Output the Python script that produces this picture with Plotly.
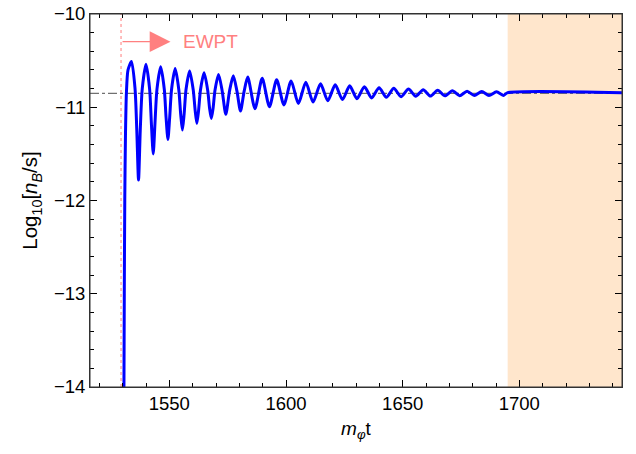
import plotly.graph_objects as go

# ---- data (m_phi t, log10 n_B/s) ----
curve_t = [
    1530.5, 1530.7, 1530.9, 1531.2, 1531.6, 1532.3,
    1533.8, 1535.3, 1536.05, 1536.8, 1537.55, 1538.4,
    1540.0, 1541.55, 1542.3, 1543.1, 1543.85, 1544.7,
    1546.3, 1547.85, 1548.6, 1549.4, 1550.15, 1550.95,
    1552.5, 1554.05, 1554.85, 1555.6, 1556.35, 1557.15,
    1558.7, 1560.25, 1561.05, 1561.8, 1562.55, 1563.35,
    1564.9, 1566.45, 1567.25, 1568.0, 1568.75, 1569.55,
    1571.1, 1572.65, 1574.2, 1575.8,
    1577.4, 1579.0, 1580.5, 1582.05,
    1583.6, 1586.7, 1589.8, 1592.9, 1596.0, 1599.1,
    1602.2, 1605.3, 1608.5, 1611.6, 1614.8, 1617.9, 1621.1, 1624.2,
    1627.3, 1630.4, 1633.6, 1636.7, 1639.9, 1643.0, 1646.2, 1649.3,
    1652.5, 1655.6, 1658.8, 1661.9, 1665.0, 1668.1, 1671.3, 1674.4,
    1677.6, 1680.7, 1683.9, 1687.0, 1690.2, 1693.3,
    1694.8, 1744.0,
]
curve_y = [
    -14.3, -13.0, -12.0, -11.3, -10.85, -10.6,
    -10.51, -10.80, -11.24, -11.78, -11.24, -10.80,
    -10.54, -10.805, -11.17, -11.50, -11.17, -10.805,
    -10.565, -10.81, -11.11, -11.345, -11.11, -10.81,
    -10.585, -10.81, -11.07, -11.245, -11.07, -10.81,
    -10.61, -10.815, -11.03, -11.173, -11.03, -10.815,
    -10.63, -10.82, -11.01, -11.12, -11.01, -10.82,
    -10.648, -10.825, -11.076, -10.825,
    -10.663, -10.83, -11.04, -10.83,
    -10.675, -11.015, -10.69, -10.995, -10.705, -10.975,
    -10.718, -10.96, -10.732, -10.945, -10.748, -10.93, -10.76, -10.918,
    -10.77, -10.908, -10.78, -10.9, -10.79, -10.893, -10.797, -10.887,
    -10.805, -10.883, -10.812, -10.88, -10.818, -10.878, -10.823, -10.876,
    -10.828, -10.875, -10.832, -10.874, -10.835, -10.873,
    -10.845, -10.845,
]

ewpt_t = 1529.3          # EW phase transition time
plateau_level = -10.852  # asymptotic value
freeze_t = 1695.0        # start of shaded region
x_range = [1516, 1744]
y_range = [-14, -10]
x_ticks = [1550, 1600, 1650, 1700]
y_ticks = [-14, -13, -12, -11, -10]
y_tick_text = ["−14", "−13", "−12", "−11", "−10"]

FONT = "Liberation Sans, Arial, sans-serif"
FRAME = "#333333"

fig = go.Figure()

fig.add_shape(type="rect", xref="x", yref="paper", x0=freeze_t, x1=x_range[1], y0=0, y1=1,
              fillcolor="rgba(255,128,0,0.2)", line_width=0, layer="below")
fig.add_shape(type="line", xref="paper", yref="y", x0=0, x1=1, y0=plateau_level, y1=plateau_level,
              line=dict(color="#707070", width=1.2, dash="dashdot"), layer="below")
fig.add_shape(type="line", xref="x", yref="paper", x0=ewpt_t, x1=ewpt_t, y0=0, y1=1,
              line=dict(color="rgba(255,120,120,0.8)", width=1.2, dash="dot"))

fig.add_trace(go.Scatter(x=curve_t, y=curve_y, mode="lines",
                         line=dict(color="#0000ff", width=3, shape="spline", smoothing=0.7),
                         showlegend=False, hoverinfo="skip"))

fig.add_shape(type="rect", xref="paper", yref="paper", x0=0, x1=1, y0=0, y1=1,
              line=dict(color=FRAME, width=1), fillcolor="rgba(0,0,0,0)", layer="above")

fig.add_annotation(x=1550.5, y=-10.297, ax=ewpt_t, ay=-10.297, xref="x", yref="y",
                   axref="x", ayref="y", text="", showarrow=True, arrowhead=2,
                   arrowsize=3.2, arrowwidth=1.3, arrowcolor="#ff8080")
fig.add_annotation(x=1555, y=-10.297, xref="x", yref="y", text="EWPT", showarrow=False,
                   xanchor="left", yanchor="middle",
                   font=dict(family=FONT, size=19, color="#ff8080"))

axis_common = dict(showline=True, linecolor=FRAME, linewidth=1, mirror="allticks",
                   ticks="inside", ticklen=7, tickwidth=1.2, tickcolor="black",
                   showgrid=False, zeroline=False, automargin=False, layer="above traces",
                   tickfont=dict(family=FONT, size=18.5, color="black"))

fig.update_xaxes(range=x_range, tickvals=x_ticks, **axis_common,
                 minor=dict(ticks="inside", ticklen=4, tickwidth=1, dtick=10, tick0=1500,
                            tickcolor="black", showgrid=False),
                 title=dict(text="<i>m</i><sub><i>φ</i></sub>t", standoff=8,
                            font=dict(family=FONT, size=19, color="black")))
fig.update_yaxes(range=y_range, tickvals=y_ticks, ticktext=y_tick_text,
                 **axis_common,
                 minor=dict(ticks="inside", ticklen=4, tickwidth=1, dtick=0.2, tick0=-14,
                            tickcolor="black", showgrid=False),
                 title=dict(text="Log<sub>10</sub>[<i>n</i><sub><i>B</i></sub>/s]", standoff=10,
                            font=dict(family=FONT, size=20.5, color="black")))

fig.update_layout(width=636, height=454, margin=dict(l=90, r=14, t=14, b=67, autoexpand=False),
                  plot_bgcolor="white", paper_bgcolor="white")

fig.write_html("out.html", config={"displayModeBar": False},
               post_script="document.body.style.margin='0px';")
